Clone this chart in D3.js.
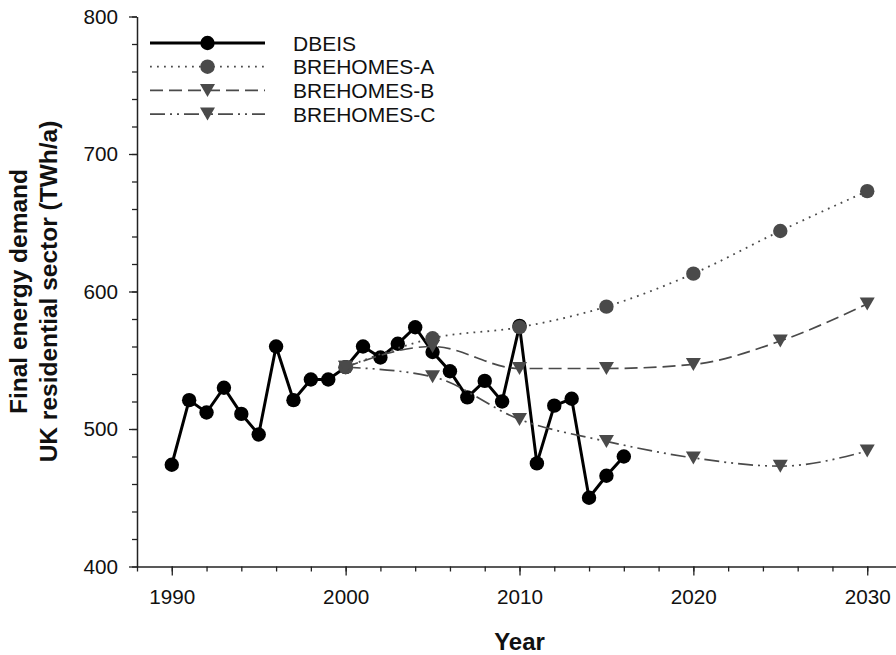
<!DOCTYPE html>
<html>
<head>
<meta charset="utf-8">
<script src="https://cdn.jsdelivr.net/npm/d3@7"></script>
<style>
  body { margin: 0; background: #fff; }
  svg { display: block; font-family: "Liberation Sans", Arial, sans-serif; }
</style>
</head>
<body>
<svg id="chart" width="896" height="655"></svg>
<script>
// data
const dbeisYears = d3.range(1990, 2017);
const dbeisValues = [474, 521, 512, 530, 511, 496, 560, 521, 536, 536,
  545, 560, 552, 562, 574, 556, 542, 523, 535, 520,
  575, 475, 517, 522, 450, 466, 480];

const scenarioYears = [2000, 2005, 2010, 2015, 2020, 2025, 2030];
const brehomesA = [545, 566, 574, 589, 613, 644, 673];
const brehomesB = [545, 560, 544, 544, 547, 564, 591];
const brehomesC = [545, 538, 507, 491, 479, 473, 484];

const seriesNames = ["DBEIS", "BREHOMES-A", "BREHOMES-B", "BREHOMES-C"];
const xTicks = [1990, 2000, 2010, 2020, 2030];
const yTicks = [400, 500, 600, 700, 800];

const margin = {top: 16.5, left: 137, bottom: 88.5};
const width = 896, height = 655;
const GREY = "#4a4a4a";

const svg = d3.select("#chart");

const x = d3.scaleLinear().domain([1988, 2032]).range([margin.left, 902]);
const y = d3.scaleLinear().domain([400, 800]).range([height - margin.bottom, margin.top]);

// axes: minor ticks first, then the labelled ones
const xMinor = svg.append("g")
  .attr("transform", `translate(0,${y(400)})`)
  .call(d3.axisBottom(x).tickValues(d3.range(1988, 2033, 2)).tickSize(5).tickFormat(""));
const xAxis = svg.append("g")
  .attr("transform", `translate(0,${y(400)})`)
  .call(d3.axisBottom(x).tickValues(xTicks).tickSize(9).tickSizeOuter(0).tickFormat(d3.format("d")));
xAxis.selectAll("text").attr("y", 23).attr("dy", "0.71em");

const yMinor = svg.append("g")
  .attr("transform", `translate(${margin.left},0)`)
  .call(d3.axisLeft(y).tickValues(d3.range(400, 801, 20)).tickSize(5).tickFormat(""));
const yAxis = svg.append("g")
  .attr("transform", `translate(${margin.left},0)`)
  .call(d3.axisLeft(y).tickValues(yTicks).tickSize(8).tickSizeOuter(0).tickPadding(11));

svg.selectAll(".domain").attr("stroke", "#222").attr("stroke-width", 1.5);
svg.selectAll(".tick line").attr("stroke", "#222").attr("stroke-width", 1.3);
svg.selectAll(".tick text").attr("font-size", 20.7).attr("fill", "#111")
  .attr("font-family", "Liberation Sans, Arial, sans-serif");
xMinor.select(".domain").remove();
yMinor.select(".domain").remove();

// axis titles
svg.append("text")
  .attr("x", x(2010)).attr("y", 650)
  .attr("text-anchor", "middle")
  .attr("font-size", 24).attr("font-weight", "bold").attr("fill", "#111")
  .text("Year");

const yTitle = svg.append("text")
  .attr("transform", `translate(27,${(y(400) + y(800)) / 2}) rotate(-90)`)
  .attr("text-anchor", "middle")
  .attr("font-size", 24.5).attr("font-weight", "bold").attr("fill", "#111");
yTitle.append("tspan").attr("x", 0).attr("y", 0).text("Final energy demand");
yTitle.append("tspan").attr("x", 0).attr("y", 30).text("UK residential sector (TWh/a)");

// marker helpers
const downTriangle = "M-7.5,-6.5L7.5,-6.5L0,6.5Z";
function drawMarkers(g, pts, kind, color, r) {
  if (kind === "circle") {
    g.selectAll("circle").data(pts).join("circle")
      .attr("cx", d => x(d[0])).attr("cy", d => y(d[1]))
      .attr("r", r).attr("fill", color);
  } else {
    g.selectAll("path.mk").data(pts).join("path")
      .attr("class", "mk")
      .attr("d", downTriangle)
      .attr("transform", d => `translate(${x(d[0])},${y(d[1])})`)
      .attr("fill", color);
  }
}

const series = [
  {name: seriesNames[0], years: dbeisYears, values: dbeisValues, color: "#000", width: 3,
    dash: null, marker: "circle", curve: d3.curveLinear},
  {name: seriesNames[1], years: scenarioYears, values: brehomesA, color: GREY, width: 1.8,
    dash: "1.8,5.2", marker: "circle", curve: d3.curveMonotoneX},
  {name: seriesNames[2], years: scenarioYears, values: brehomesB, color: GREY, width: 1.7,
    dash: "13,6", marker: "triangle", curve: d3.curveMonotoneX},
  {name: seriesNames[3], years: scenarioYears, values: brehomesC, color: GREY, width: 1.7,
    dash: "15,5,2,5,2,5", marker: "triangle", curve: d3.curveMonotoneX}
];

series.forEach(s => {
  const pts = s.years.map((yr, i) => [yr, s.values[i]]);
  const line = d3.line().x(d => x(d[0])).y(d => y(d[1])).curve(s.curve);
  const g = svg.append("g");
  g.append("path")
    .attr("d", line(pts))
    .attr("fill", "none")
    .attr("stroke", s.color)
    .attr("stroke-width", s.width)
    .attr("stroke-dasharray", s.dash);
  drawMarkers(g, pts, s.marker, s.color, s.marker === "circle" ? 7.2 : 0);
});

// legend
const legend = svg.append("g");
series.forEach((s, i) => {
  const ly = 43 + i * 23.7;
  legend.append("line")
    .attr("x1", 150).attr("x2", 265).attr("y1", ly).attr("y2", ly)
    .attr("stroke", s.color).attr("stroke-width", s.width)
    .attr("stroke-dasharray", s.dash);
  if (s.marker === "circle") {
    legend.append("circle").attr("cx", 207.5).attr("cy", ly).attr("r", 7.2).attr("fill", s.color);
  } else {
    legend.append("path").attr("d", downTriangle)
      .attr("transform", `translate(207.5,${ly})`).attr("fill", s.color);
  }
  legend.append("text")
    .attr("x", 293).attr("y", ly).attr("dy", "0.36em")
    .attr("font-size", 21).attr("fill", "#111")
    .text(s.name);
});
</script>
</body>
</html>
